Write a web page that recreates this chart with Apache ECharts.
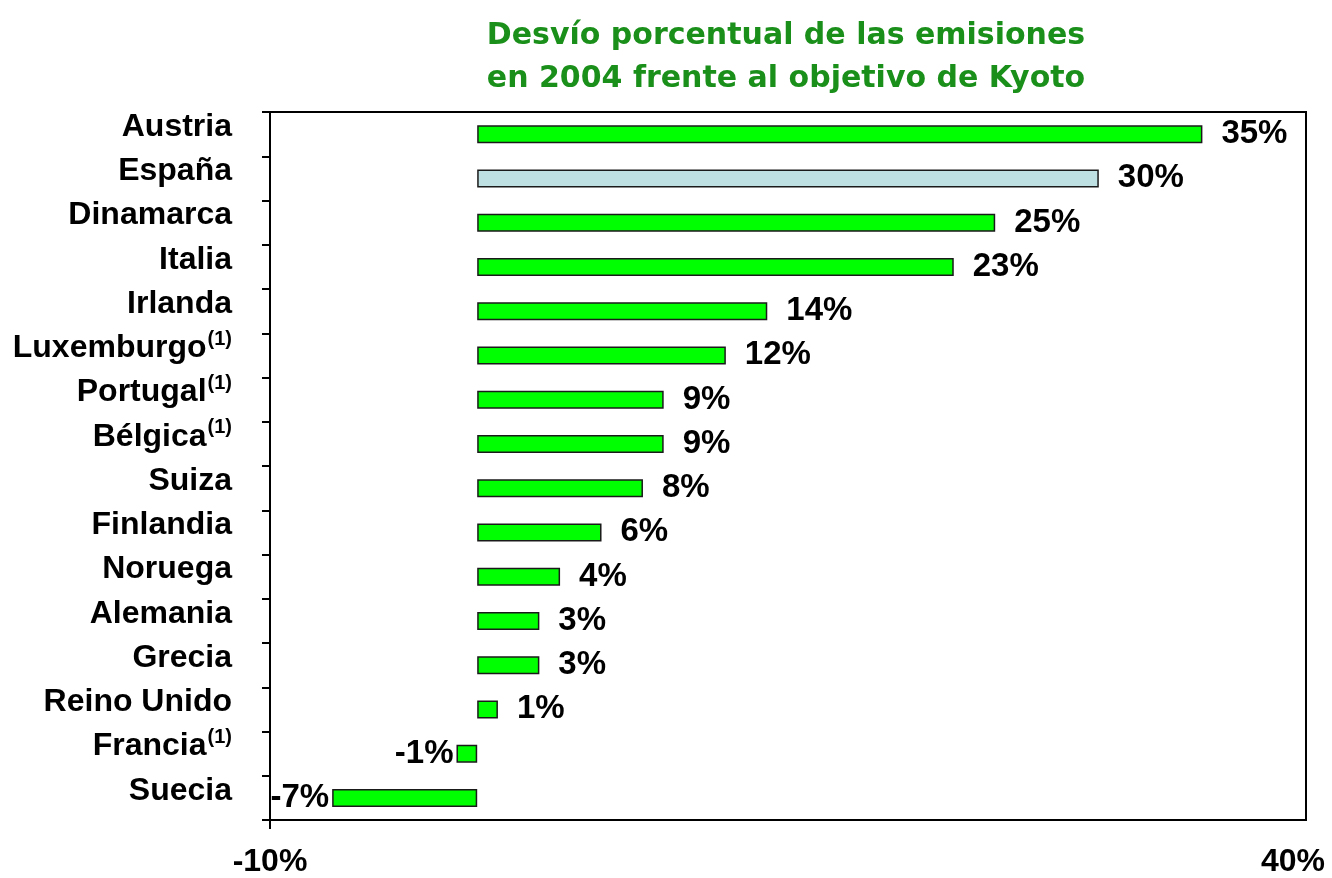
<!DOCTYPE html>
<html>
<head>
<meta charset="utf-8">
<script src="https://cdn.jsdelivr.net/npm/echarts@6/dist/echarts.min.js"></script>
<style>
  html, body { margin: 0; padding: 0; background: #fff; }
  #main { width: 1332px; height: 878px; }
</style>
</head>
<body>
<div id="main"></div>
<script>
  // datos
  var paises = ['Austria', 'España', 'Dinamarca', 'Italia', 'Irlanda', 'Luxemburgo(1)',
    'Portugal(1)', 'Bélgica(1)', 'Suiza', 'Finlandia', 'Noruega', 'Alemania',
    'Grecia', 'Reino Unido', 'Francia(1)', 'Suecia'];
  var desvio = [35, 30, 25, 23, 14, 12, 9, 9, 8, 6, 4, 3, 3, 1, -1, -7];
  var destacado = 'España';
  var ejeMin = -10;
  var ejeMax = 40;

  var fuente = '"Liberation Sans", Arial, sans-serif';
  var chart = echarts.init(document.getElementById('main'));

  var datos = desvio.map(function (v, i) {
    return {
      value: v,
      itemStyle: { color: paises[i] === destacado ? '#bfe0e3' : '#00ff00' },
      label: v < 0 ? { position: 'left', distance: 3 } : { position: 'right', distance: 19 }
    };
  });

  var option = {
    backgroundColor: '#fff',
    animation: false,
    title: {
      text: 'Desvío porcentual de las emisiones\nen 2004 frente al objetivo de Kyoto',
      left: 781,
      top: 10,
      textAlign: 'center',
      textStyle: {
        fontFamily: '"DejaVu Sans", Verdana, sans-serif',
        fontWeight: 'bold',
        fontSize: 30,
        lineHeight: 43,
        color: '#1a8f1a'
      }
    },
    grid: {
      left: 270, right: 26, top: 112, bottom: 58,
      show: true, borderColor: '#000', borderWidth: 2
    },
    xAxis: {
      type: 'value',
      min: ejeMin, max: ejeMax, interval: ejeMax - ejeMin,
      splitLine: { show: false },
      axisLine: { show: true, onZero: false, lineStyle: { color: '#000', width: 2 } },
      axisTick: { show: true, customValues: [ejeMin], length: 9, lineStyle: { color: '#000', width: 2 } },
      axisLabel: {
        margin: 26,
        fontFamily: fuente, fontWeight: 'bold', fontSize: 32, color: '#000',
        formatter: function (v) {
          return v === ejeMax ? '{max|' + v + '%}' : v + '%';
        },
        rich: {
          max: { fontFamily: fuente, fontWeight: 'bold', fontSize: 32, color: '#000', padding: [0, 26, 0, 0] }
        }
      }
    },
    yAxis: {
      type: 'category',
      inverse: true,
      data: paises,
      axisLine: { show: true, onZero: false, lineStyle: { color: '#000', width: 2 } },
      axisTick: { show: true, length: 8, lineStyle: { color: '#000', width: 2 } },
      axisLabel: {
        margin: 38,
        fontFamily: fuente, fontWeight: 'bold', fontSize: 32, color: '#000',
        formatter: function (s) {
          if (s.indexOf('(1)') > 0) {
            return '{n|' + s.replace('(1)', '') + '}{sup|(1)}';
          }
          return '{n|' + s + '}';
        },
        rich: {
          n: { fontFamily: fuente, fontWeight: 'bold', fontSize: 32, color: '#000', padding: [0, 0, 14, 0] },
          sup: { fontFamily: fuente, fontWeight: 'bold', fontSize: 20, color: '#000', padding: [0, 0, 32, 1] }
        }
      }
    },
    series: [{
      type: 'bar',
      data: datos,
      barWidth: 18,
      itemStyle: { borderColor: '#1a1a1a', borderWidth: 1.5 },
      label: {
        show: true,
        fontFamily: fuente, fontWeight: 'bold', fontSize: 33, color: '#000',
        formatter: function (p) { return p.value + '%'; }
      }
    }]
  };

  chart.setOption(option);
</script>
</body>
</html>
